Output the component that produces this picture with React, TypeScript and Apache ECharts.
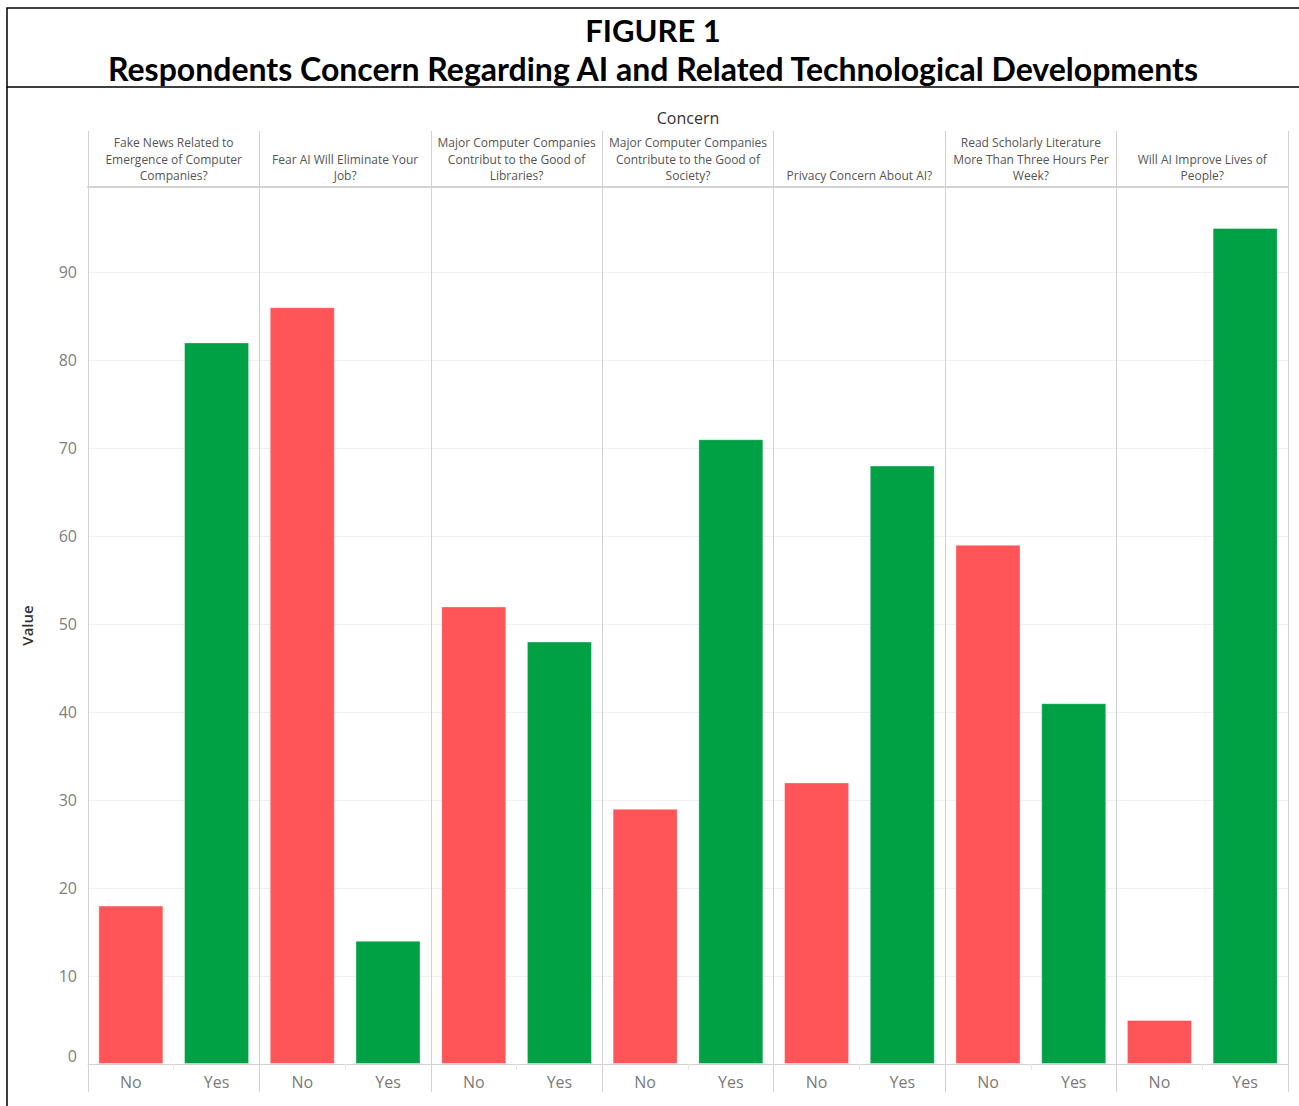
import React, { useEffect, useRef } from 'react';
import * as echarts from 'echarts';

const panels = [
  'Fake News Related to\nEmergence of Computer\nCompanies?',
  'Fear AI Will Eliminate Your\nJob?',
  'Major Computer Companies\nContribut to the Good of\nLibraries?',
  'Major Computer Companies\nContribute to the Good of\nSociety?',
  'Privacy Concern About AI?',
  'Read Scholarly Literature\nMore Than Three Hours Per\nWeek?',
  'Will AI Improve Lives of\nPeople?',
];
const answers = ['No', 'Yes'];
const noValues = [18, 86, 52, 29, 32, 59, 5];
const yesValues = [82, 14, 48, 71, 68, 41, 95];
const answerColors = { No: '#ff5558', Yes: '#00a045' };
const figureLabel = 'FIGURE 1';
const titleText = 'Respondents Concern Regarding AI and Related Technological Developments';
const columnTitle = 'Concern';
const valueTitle = 'Value';

const FONT = '"Open Sans", sans-serif';

export default function App() {
  const ref = useRef<HTMLDivElement>(null);
  useEffect(() => {
    if (!ref.current) return;
    const chart = echarts.init(ref.current, null, { renderer: 'svg' });

    const categories: string[] = [];
    const data: any[] = [];
    panels.forEach((_, i) => {
      answers.forEach((a) => {
        categories.push(`${a}_${i}`);
        const v = a === 'No' ? noValues[i] : yesValues[i];
        data.push({ value: v, itemStyle: { color: (answerColors as any)[a] } });
      });
    });

    const lineColor = '#d2d2d2';

    chart.setOption({
      animation: false,
      backgroundColor: '#ffffff',
      textStyle: { fontFamily: FONT },
      grid: { left: 88, top: 187, width: 1200, height: 877, containLabel: false },
      graphic: [
        {
          type: 'rect',
          shape: { x: 7, y: 8, width: 1310, height: 79 },
          style: { fill: 'none', stroke: '#000', lineWidth: 1.5 },
          silent: true,
        },
        {
          type: 'line',
          shape: { x1: 7, y1: 87, x2: 7, y2: 1110 },
          style: { stroke: '#000', lineWidth: 1.5 },
          silent: true,
        },
        {
          type: 'text',
          x: 653,
          y: 30,
          style: {
            text: figureLabel,
            fontFamily: 'Lato, sans-serif',
            fontWeight: 'bold',
            fontSize: 31,
            fill: '#000',
            textAlign: 'center',
            textVerticalAlign: 'middle',
          },
        },
        {
          type: 'text',
          x: 653,
          y: 68,
          style: {
            text: titleText,
            fontFamily: 'Lato, sans-serif',
            fontWeight: 'bold',
            fontSize: 32,
            fill: '#000',
            textAlign: 'center',
            textVerticalAlign: 'middle',
          },
        },
      ],
      xAxis: [
        {
          type: 'category',
          data: categories,
          position: 'bottom',
          axisLine: { show: true, lineStyle: { color: lineColor } },
          axisTick: { show: true, length: 6, interval: 0, lineStyle: { color: '#e8e8e8' } },
          axisLabel: {
            interval: 0,
            margin: 10,
            fontSize: 16,
            color: '#7a7a7a',
            fontFamily: FONT,
            formatter: (v: string) => v.split('_')[0],
          },
          splitLine: { show: false },
        },
        {
          type: 'category',
          data: panels,
          position: 'top',
          axisLine: { show: true, lineStyle: { color: lineColor, width: 2 } },
          axisTick: { show: true, length: 56, interval: 0, lineStyle: { color: lineColor } },
          axisLabel: {
            interval: 0,
            margin: 3,
            fontSize: 12,
            lineHeight: 16.5,
            color: '#555',
            fontFamily: FONT,
          },
          splitLine: { show: true, interval: 0, lineStyle: { color: lineColor } },
          name: columnTitle,
          nameLocation: 'middle',
          nameGap: 61,
          nameTextStyle: { fontSize: 16, color: '#333', fontFamily: FONT },
        },
        {
          type: 'category',
          data: panels,
          position: 'bottom',
          axisLine: { show: false },
          axisTick: { show: true, length: 28, interval: 0, lineStyle: { color: lineColor } },
          axisLabel: { show: false },
          splitLine: { show: false },
        },
      ],
      yAxis: {
        type: 'value',
        min: 0,
        max: 99.66,
        interval: 10,
        axisLine: { show: false },
        axisTick: { show: false },
        axisLabel: {
          showMaxLabel: false,
          fontSize: 16,
          color: '#808080',
          margin: 11,
          fontFamily: FONT,
          verticalAlignMinLabel: 'bottom',
        },
        splitLine: { show: true, lineStyle: { color: '#f0f0f0' } },
        name: valueTitle,
        nameLocation: 'middle',
        nameGap: 54,
        nameRotate: 90,
        nameTextStyle: { fontSize: 15, color: '#333', fontWeight: 600, fontFamily: FONT },
      },
      series: [
        {
          type: 'bar',
          xAxisIndex: 0,
          yAxisIndex: 0,
          data,
          barWidth: 65,
          itemStyle: { borderColor: 'rgba(255,255,255,0.35)', borderWidth: 1 },
        },
      ],
    });

    return () => chart.dispose();
  }, []);

  return (
    <div
      ref={ref}
      style={{ position: 'absolute', left: 0, top: 0, width: 1299, height: 1106, background: '#fff' }}
    />
  );
}
